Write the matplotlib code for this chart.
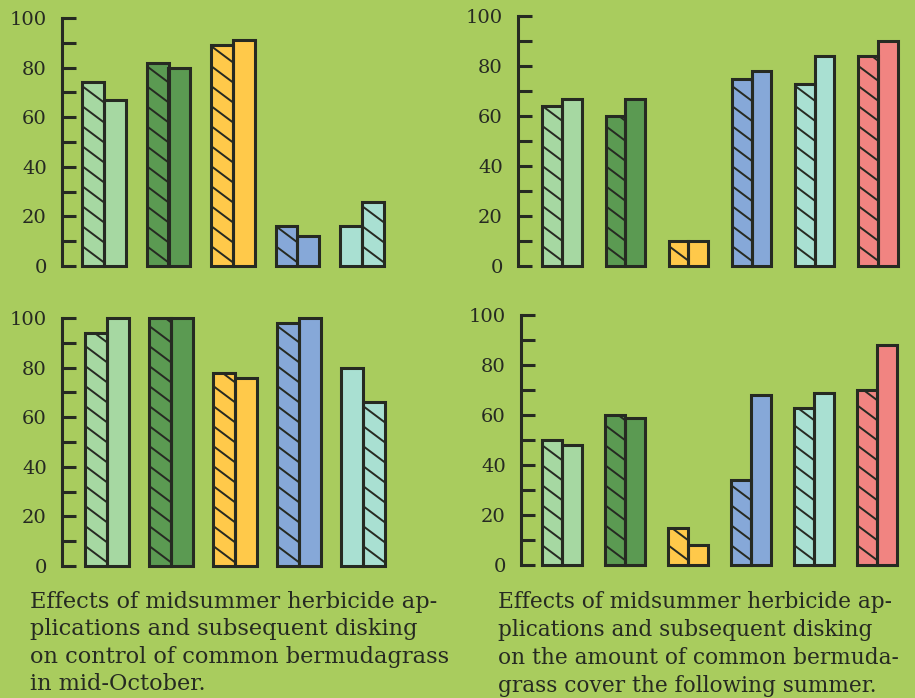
import matplotlib
matplotlib.use("Agg")
import matplotlib.pyplot as plt
import numpy as np

# ---- data ----
tl_first = [74, 82, 89, 16, 16]
tl_second = [67, 80, 91, 12, 26]
tl_first_hatched = [True, True, True, True, False]

tr_first = [64, 60, 10, 75, 73, 84]
tr_second = [67, 67, 10, 78, 84, 90]
tr_first_hatched = [True, True, True, True, True, True]

bl_first = [94, 100, 78, 98, 80]
bl_second = [100, 100, 76, 100, 66]
bl_first_hatched = [True, True, True, True, False]

br_first = [50, 60, 15, 34, 63, 70]
br_second = [48, 59, 8, 68, 69, 88]
br_first_hatched = [True, True, True, True, True, True]

yticks_major = [0, 20, 40, 60, 80, 100]
yticks_minor = [10, 30, 50, 70, 90]

caption_left = ("Effects of midsummer herbicide ap-\n"
                "plications and subsequent disking\n"
                "on control of common bermudagrass\n"
                "in mid-October.")
caption_right = ("Effects of midsummer herbicide ap-\n"
                 "plications and subsequent disking\n"
                 "on the amount of common bermuda-\n"
                 "grass cover the following summer.")

# ---- styles ----
BG = "#a9cc5e"
INK = "#262a22"
colors = ["#a6d8a2", "#5b9a52", "#ffc94a", "#86a8d8", "#a9e0d2", "#f18481"]
HATCH_STEP_PX = 20.0   # vertical spacing of hatch lines
HATCH_SLOPE = 0.75     # drop per px to the right

W, H = 915, 698
fig = plt.figure(figsize=(W / 100, H / 100), dpi=100)
fig.patch.set_facecolor(BG)


def add_hatch(ax, patch, px_x, px_y):
    # diagonal lines (top-left to bottom-right) clipped to the bar patch
    x_left = patch.get_x()
    w = patch.get_width()
    top = patch.get_height()
    w_px = w * px_x
    drop = HATCH_SLOPE * w_px / px_y
    step = HATCH_STEP_PX / px_y
    k = 0.0
    while k - drop < top + step:
        line, = ax.plot([x_left, x_left + w], [k, k - drop], color=INK,
                        lw=1.4, solid_capstyle="butt", clip_on=True)
        line.set_clip_path(patch)
        k += step


def make_panel(axis_x, y_top, y_zero, first_center, spacing, bar_w,
               first, second, first_hatched):
    width_px = 400
    ax = fig.add_axes([axis_x / W, (H - y_zero) / H, width_px / W,
                       (y_zero - y_top) / H])
    ax.set_facecolor("none")
    x0 = -(first_center - axis_x) / spacing
    ax.set_xlim(x0, x0 + width_px / spacing)
    ax.set_ylim(0, 100)
    px_y = (y_zero - y_top) / 100.0
    x = np.arange(len(first))
    for i in x:
        c = colors[i]
        b1 = ax.bar(i - bar_w / 2, first[i], width=bar_w, color=c,
                    edgecolor="none", clip_on=False)[0]
        b2 = ax.bar(i + bar_w / 2, second[i], width=bar_w, color=c,
                    edgecolor="none", clip_on=False)[0]
        hatched = b1 if first_hatched[i] else b2
        add_hatch(ax, hatched, spacing, px_y)
        for b, v in ((b1, first[i]), (b2, second[i])):
            ax.bar(b.get_x() + bar_w / 2, v, width=bar_w, color="none",
                   edgecolor=INK, linewidth=2.2, clip_on=False)
    for s in ["top", "right", "bottom"]:
        ax.spines[s].set_visible(False)
    ax.spines["left"].set_linewidth(2.2)
    ax.spines["left"].set_color(INK)
    ax.set_xticks([])
    ax.set_yticks(yticks_major)
    ax.set_yticks(yticks_minor, minor=True)
    ax.tick_params(axis="y", which="both", direction="in", length=10,
                   width=2.2, color=INK)
    ax.tick_params(axis="y", which="major", labelsize=14, pad=11,
                   labelcolor=INK)
    for lab in ax.get_yticklabels():
        lab.set_family("DejaVu Serif")
    return ax


make_panel(62, 18, 266, 104, 64.5, 0.34, tl_first, tl_second, tl_first_hatched)
make_panel(518, 16, 266, 562, 63.2, 0.31, tr_first, tr_second, tr_first_hatched)
make_panel(62, 318, 566, 107, 64.0, 0.34, bl_first, bl_second, bl_first_hatched)
make_panel(521, 315, 565, 562, 63.0, 0.32, br_first, br_second, br_first_hatched)

fig.text(30 / W, 1 - 591 / H, caption_left, ha="left", va="top",
         family="DejaVu Serif", fontsize=16.2, color=INK, linespacing=1.31)
fig.text(498 / W, 1 - 591 / H, caption_right, ha="left", va="top",
         family="DejaVu Serif", fontsize=15.6, color=INK, linespacing=1.36)

fig.savefig("out.png", dpi=100, facecolor=BG)
